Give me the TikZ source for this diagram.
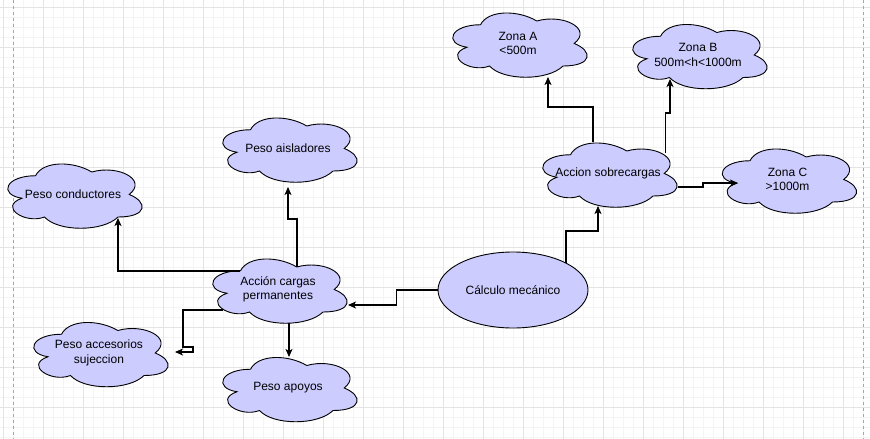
\documentclass[tikz,border=0pt]{standalone}
\usepackage{fontspec}
\setmainfont{Liberation Sans}
\usetikzlibrary{arrows.meta,calc,shapes.geometric}
\definecolor{cloudfill}{HTML}{CCCCFF}
\definecolor{gridmin}{HTML}{F4F4F4}
\definecolor{gridmaj}{HTML}{E4E4E4}
\tikzset{
  cloudline/.style={draw=black,fill=cloudfill,line width=0.9pt},
  cloudtext/.style={rectangle,minimum width=150pt,minimum height=75pt,inner sep=0pt,align=center,font=\fontsize{12}{14.5}\selectfont},
  conn/.style={draw=black,line width=1.1pt,-{Stealth[length=8pt,width=7pt,inset=2pt]}},
  gridminor/.style={draw=gridmin,line width=0.8pt},
  gridmajor/.style={draw=gridmaj,line width=1pt},
  pagebreak/.style={draw=gray!70,line width=0.8pt,dash pattern=on 3pt off 3pt},
}
\newcommand\mycloud[4]{%
  \begin{scope}[shift={(#2-75,#3-37.5)}]
    \path[cloudline] (37.5,18.75) .. controls (7.5,18.75) and (0,37.5) .. (24,41.25)
      .. controls (0,49.5) and (27,67.5) .. (46.5,60)
      .. controls (60,75) and (105,75) .. (120,60)
      .. controls (150,60) and (150,45) .. (131.25,37.5)
      .. controls (150,22.5) and (120,7.5) .. (93.75,15)
      .. controls (75,3.75) and (45,3.75) .. (37.5,18.75) -- cycle;
  \end{scope}
  \node[cloudtext] (#1) at (#2,#3) {#4};}
\begin{document}
\begin{tikzpicture}[x=1pt,y=-1pt]
\useasboundingbox (0,0) rectangle (870,439);
\fill[white] (0,0) rectangle (870,439);
% grid
\foreach \i in {0,...,86} \draw[gridminor] (3.3+10*\i,0) -- (3.3+10*\i,439);
\foreach \i in {0,...,43} \draw[gridminor] (0,7.3+10*\i) -- (870,7.3+10*\i);
\foreach \i in {0,...,21} \draw[gridmajor] (3.3+40*\i,0) -- (3.3+40*\i,439);
\foreach \i in {0,...,10} \draw[gridmajor] (0,7.3+40*\i) -- (870,7.3+40*\i);
\draw[pagebreak] (13.3,0) -- (13.3,439);
\draw[pagebreak] (863.3,0) -- (863.3,439);
% nodes
\mycloud{cond}{73}{194.5}{Peso conductores}
\mycloud{aisl}{288}{148.5}{Peso aisladores}
\mycloud{acp}{278}{289.5}{Acción cargas\\permanentes}
\mycloud{acc}{99}{353}{Peso accesorios\\sujeccion}
\mycloud{apo}{288}{388}{Peso apoyos}
\mycloud{sob}{608}{173.5}{Accion sobrecargas}
\mycloud{zA}{518}{43.5}{Zona A\\<500m}
\mycloud{zB}{698}{55}{Zona B\\500m<h<1000m}
\mycloud{zC}{787.5}{179.5}{Zona C\\>1000m}
\node[ellipse,draw=black,fill=cloudfill,line width=0.9pt,minimum width=150pt,minimum height=76pt,inner sep=0pt,font=\fontsize{12}{14.5}\selectfont] (calc) at (513,290) {Cálculo mecánico};
% connectors
\draw[conn] (calc.west) -- ++(-41,0) |- ($(acp.center)+(70,15.5)$);
\draw[conn] ($(calc.center)+(53,-27)$) -- ++(0,-32) -| ($(sob.center)+(-10,32.5)$);
\draw[conn] ($(sob.center)+(-15,-31.5)$) -- ++(0,-35) -| ($(zA.center)+(30,33.5)$);
\draw[conn] ($(sob.center)+(57.7,-20.5)$) -- ++(0,-40) -| ($(zB.center)+(-28,24)$);
\draw[conn] ($(sob.center)+(70,13.5)$) -- ++(25,0) |- ($(zC.center)+(-49.5,3.5)$);
\draw[conn] ($(acp.center)+(19,-22.5)$) -- ++(0,-48) -| ($(aisl.center)+(0,38.5)$);
\draw[conn] ($(acp.center)+(-38,-18.5)$) -| ($(cond.center)+(45,23.5)$);
\draw[conn] ($(acp.center)+(11,33.5)$) -- ($(apo.center)+(1,-31)$);
\draw[conn] ($(acp.center)+(-55,20.5)$) -- ++(-40,0) -- ++(0,37) -- ++(10,0) |- ($(acc.center)+(76,-1)$);
\end{tikzpicture}
\end{document}
